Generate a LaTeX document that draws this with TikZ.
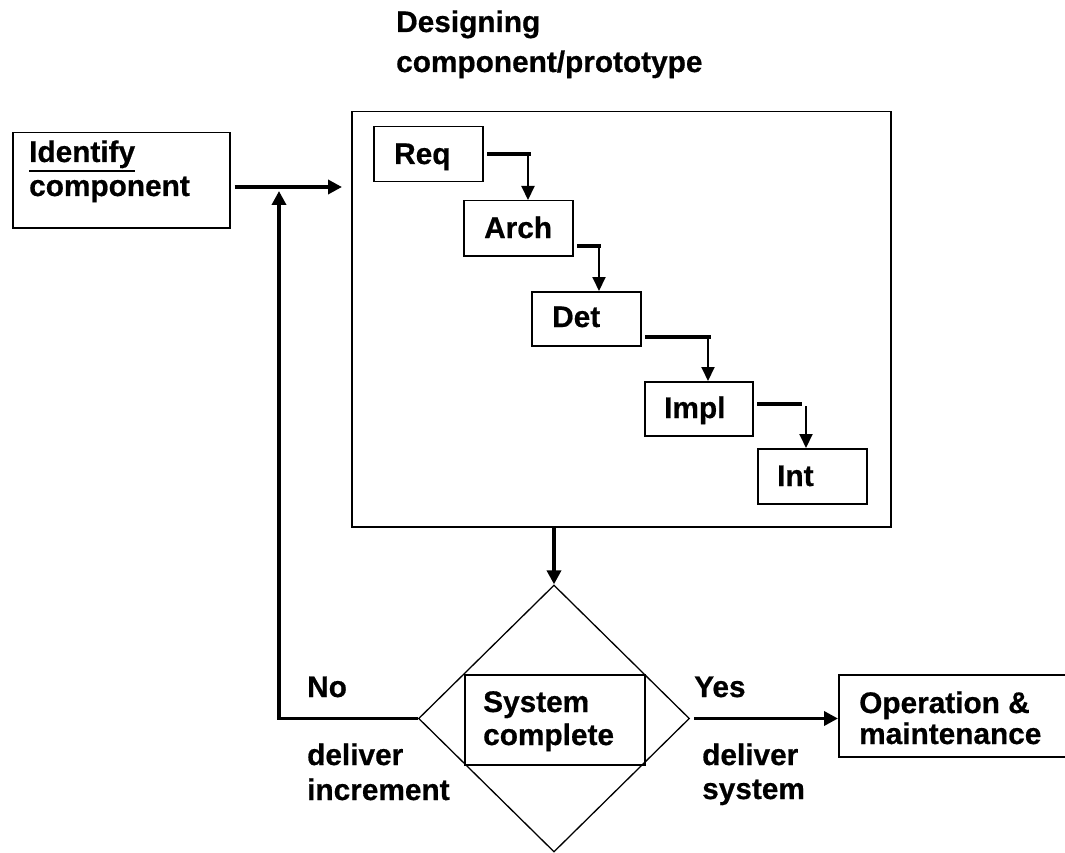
\documentclass[tikz,border=0pt]{standalone}
\usepackage{fontspec}
\setmainfont{Liberation Sans}[BoldFeatures={FakeBold=0.6}]
\usetikzlibrary{arrows.meta,shapes.geometric}
\begin{document}
\begin{tikzpicture}[x=1pt,y=-1pt,
  box/.style={draw, line width=1.5pt, rectangle, inner sep=0pt, anchor=north west},
  lbl/.style={anchor=base west, inner sep=0pt, font=\bfseries\fontsize{29.8}{35}\selectfont},
  bar/.style={line width=3.5pt},
  flow/.style={line width=3.5pt, -{Triangle[length=14pt,width=14pt]}},
  drop/.style={line width=2pt, -{Triangle[length=14pt,width=13pt]}},
]
\useasboundingbox (0,0) rectangle (1065,853);

% frame of the design stage and its heading
\node[box, minimum width=539pt, minimum height=415pt] (main) at (351,111) {};
\node[lbl] (headA) at (396,32) {Designing};
\node[lbl] (headB) at (396,72) {component/prototype};

% first step
\node[box, minimum width=217pt, minimum height=95pt] (ident) at (12,132) {};
\node[lbl] (identA) at (29,162) {Identify};
\node[lbl] (identB) at (29,196) {component};
\draw[line width=2pt] ([yshift=-9pt]identA.base west) -- ([yshift=-9pt]identA.base east);

% waterfall inside the design stage
\node[box, minimum width=109pt, minimum height=55pt] (req)  at (373,126) {};
\node[box, minimum width=109pt, minimum height=55pt] (arch) at (463,200) {};
\node[box, minimum width=109pt, minimum height=54pt] (det)  at (531,291) {};
\node[box, minimum width=108pt, minimum height=54pt] (impl) at (644,381) {};
\node[box, minimum width=109pt, minimum height=55pt] (int)  at (757,448) {};
\node[lbl] (reqT)  at (394,164) {Req};
\node[lbl] (archT) at (484,238) {Arch};
\node[lbl] (detT)  at (552,327) {Det};
\node[lbl] (implT) at (664,418) {Impl};
\node[lbl] (intT)  at (777,486) {Int};

% step-to-step links
\coordinate (rA) at (487,154); \coordinate (rB) at (531,154); \coordinate (rC) at (528,154);
\coordinate (aA) at (577,246); \coordinate (aB) at (601,246); \coordinate (aC) at (599,246);
\coordinate (dA) at (645,337); \coordinate (dB) at (711,337); \coordinate (dC) at (708,337);
\coordinate (iA) at (757,404); \coordinate (iB) at (802,404); \coordinate (iC) at (806,406);
\draw[bar] (rA) -- (rB);
\draw[drop] (rC) -- (rC |- arch.north);
\draw[bar] (aA) -- (aB);
\draw[drop] (aC) -- (aC |- det.north);
\draw[bar] (dA) -- (dB);
\draw[drop] (dC) -- (dC |- impl.north);
\draw[bar] (iA) -- (iB);
\draw[drop] (iC) -- (iC |- int.north);

% decision
\node[draw, diamond, line width=1.3pt, inner sep=0pt, minimum width=271pt, minimum height=267pt] (dec) at (554,718.5) {};
\node[box, minimum width=180pt, minimum height=90pt] (sys) at (464,674) {};
\node[lbl] (sysA) at (483,712) {System};
\node[lbl] (sysB) at (483,745) {complete};

% final stage
\node[box, minimum width=240pt, minimum height=82pt] (ops) at (838,674) {};
\node[lbl] (opsA) at (859,713) {Operation \&};
\node[lbl] (opsB) at (859,744) {maintenance};

% main flow
\coordinate (jn) at (279,187);
\draw[flow, shorten >=9pt] ([xshift=4pt]ident.east |- jn) -- (main.west |- jn);
\draw[flow, shorten >=4pt] (dec.west) -| (jn);
\draw[flow] (dec.north |- main.south) -- (dec.north);
\draw[flow] ([xshift=4pt]dec.east) -- (dec.east -| ops.west);

% branch labels
\node[lbl] (no)    at (307,697) {No};
\node[lbl] (noA)   at (307,765) {deliver};
\node[lbl] (noB)   at (307,800) {increment};
\node[lbl] (yes)   at (694,697) {Yes};
\node[lbl] (yesA)  at (702,765) {deliver};
\node[lbl] (yesB)  at (702,799) {system};
\end{tikzpicture}
\end{document}
